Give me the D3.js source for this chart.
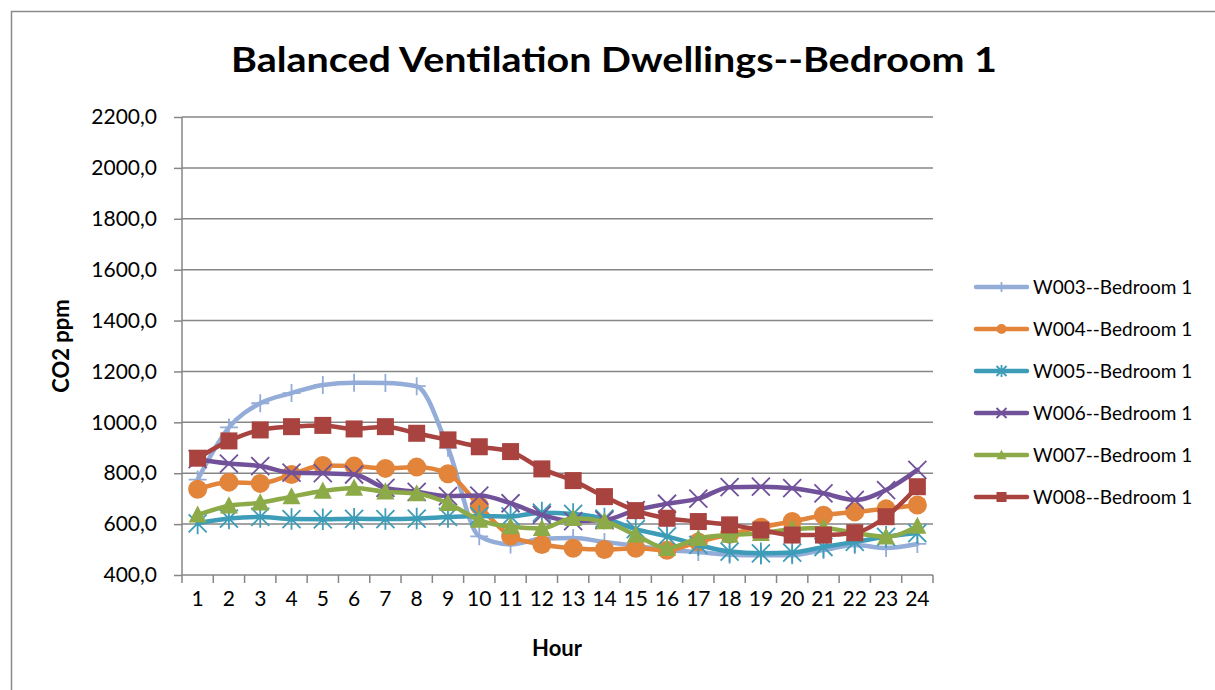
<!DOCTYPE html>
<html>
<head>
<meta charset="utf-8">
<script src="https://cdn.jsdelivr.net/npm/d3@7"></script>
<style>
  html, body { margin: 0; padding: 0; background: #fff; }
  svg text { font-family: Lato, "Open Sans", sans-serif; fill: #000; }
</style>
</head>
<body>
<svg id="chart" width="1215" height="690"></svg>
<script>
const hours = [1,2,3,4,5,6,7,8,9,10,11,12,13,14,15,16,17,18,19,20,21,22,23,24];
const seriesNames = ["W003--Bedroom 1","W004--Bedroom 1","W005--Bedroom 1","W006--Bedroom 1","W007--Bedroom 1","W008--Bedroom 1"];
const w003 = [775, 980, 1075, 1115, 1147, 1156, 1155, 1142, 900, 552, 520, 542, 545, 530, 515, 498, 490, 480, 478, 478, 498, 518, 506, 522];
const w004 = [737, 765, 760, 795, 830, 828, 819, 824, 798, 672, 553, 520, 505, 500, 505, 497, 530, 560, 588, 610, 635, 648, 660, 675];
const w005 = [603, 622, 628, 620, 619, 621, 620, 622, 628, 632, 630, 645, 640, 622, 580, 552, 518, 492, 485, 488, 510, 530, 550, 565];
const w006 = [855, 838, 828, 802, 800, 795, 742, 727, 710, 712, 682, 636, 612, 616, 655, 680, 700, 745, 747, 741, 721, 695, 734, 813];
const w007 = [636, 672, 684, 708, 730, 742, 727, 720, 682, 616, 590, 583, 623, 610, 557, 505, 544, 557, 564, 580, 585, 565, 550, 592];
const w008 = [859, 927, 970, 983, 988, 974, 983, 957, 931, 904, 885, 817, 771, 708, 653, 623, 610, 597, 577, 557, 557, 566, 629, 747];
const yTicks = [400, 600, 800, 1000, 1200, 1400, 1600, 1800, 2000, 2200];
const colors = ["#93ACD8", "#E2843A", "#3D9CB7", "#71519A", "#8CAA48", "#A8433F"];
const markers = ["plus", "circle", "star", "cross", "triangle", "square"];
const allValues = [w003, w004, w005, w006, w007, w008];

const svg = d3.select("#chart");
const plot = { left: 182, right: 933, top: 117, bottom: 575 };

// outer border
svg.append("rect").attr("x", 11.5).attr("y", 11.5).attr("width", 1215).attr("height", 700)
  .attr("fill", "none").attr("stroke", "#8a8a8a").attr("stroke-width", 1.5);

// title
svg.append("text").attr("x", 614).attr("y", 72).attr("text-anchor", "middle")
  .attr("font-size", 34).attr("font-weight", "bold")
  .attr("textLength", 766).attr("lengthAdjust", "spacingAndGlyphs")
  .text("Balanced Ventilation Dwellings--Bedroom 1");

const x = d3.scaleBand().domain(hours).range([plot.left, plot.right]);
const y = d3.scaleLinear().domain([400, 2200]).range([plot.bottom, plot.top]);

// grid lines
svg.append("g").selectAll("line").data(yTicks.slice(1)).join("line")
  .attr("x1", plot.left).attr("x2", plot.right)
  .attr("y1", d => y(d)).attr("y2", d => y(d))
  .attr("stroke", "#868686").attr("stroke-width", 1.5);

// y axis
const yAxis = svg.append("g").attr("transform", `translate(${plot.left},0)`)
  .call(d3.axisLeft(y).tickValues(yTicks).tickSize(8).tickPadding(17)
    .tickFormat(d => d3.format(".1f")(d).replace(".", ",")));
yAxis.selectAll("line").attr("stroke", "#868686").attr("stroke-width", 1.5);
yAxis.select(".domain").attr("stroke", "#868686").attr("stroke-width", 1.5).attr("d", `M0,${plot.top}V${plot.bottom}`);
yAxis.selectAll("text").attr("font-size", 21).attr("font-family", "Lato, sans-serif").attr("fill", "#000");

// x axis
const xAxis = svg.append("g").attr("transform", `translate(0,${plot.bottom})`)
  .call(d3.axisBottom(x).tickSize(0).tickPadding(16));
xAxis.select(".domain").attr("stroke", "#868686").attr("stroke-width", 1.5).attr("d", `M${plot.left},0H${plot.right}`);
xAxis.selectAll("text").attr("font-size", 21).attr("font-family", "Lato, sans-serif").attr("fill", "#000");
// category boundary ticks
const bounds = hours.map(h => x(h)).concat([plot.right]);
svg.append("g").selectAll("line").data(bounds).join("line")
  .attr("x1", d => d).attr("x2", d => d)
  .attr("y1", plot.bottom).attr("y2", plot.bottom + 8)
  .attr("stroke", "#868686").attr("stroke-width", 1.5);

// axis titles
svg.append("text").attr("transform", `translate(69,346) rotate(-90)`).attr("text-anchor", "middle")
  .attr("font-size", 22).attr("font-weight", "bold").text("CO2 ppm");
svg.append("text").attr("x", 557).attr("y", 656).attr("text-anchor", "middle")
  .attr("font-size", 22).attr("font-weight", "bold").text("Hour");

function drawMarker(g, type, cx, cy, color, s) {
  const h = s / 2;
  if (type === "circle") {
    g.append("circle").attr("cx", cx).attr("cy", cy).attr("r", h).attr("fill", color);
  } else if (type === "square") {
    g.append("rect").attr("x", cx - h).attr("y", cy - h).attr("width", s).attr("height", s).attr("fill", color);
  } else if (type === "triangle") {
    g.append("path").attr("d", `M${cx},${cy - h * 1.05}L${cx + h},${cy + h * 0.85}L${cx - h},${cy + h * 0.85}Z`).attr("fill", color);
  } else if (type === "plus") {
    g.append("path").attr("d", `M${cx - h},${cy}H${cx + h}M${cx},${cy - h}V${cy + h}`)
      .attr("stroke", color).attr("stroke-width", 1.8).attr("fill", "none");
  } else if (type === "cross") {
    g.append("path").attr("d", `M${cx - h},${cy - h}L${cx + h},${cy + h}M${cx - h},${cy + h}L${cx + h},${cy - h}`)
      .attr("stroke", color).attr("stroke-width", 1.8).attr("fill", "none");
  } else if (type === "star") {
    g.append("path").attr("d", `M${cx - h},${cy - h}L${cx + h},${cy + h}M${cx - h},${cy + h}L${cx + h},${cy - h}M${cx},${cy - h * 1.2}V${cy + h * 1.2}`)
      .attr("stroke", color).attr("stroke-width", 1.8).attr("fill", "none");
  }
}

const line = d3.line()
  .x((d, i) => x(hours[i]) + x.bandwidth() / 2)
  .y(d => y(d))
  .curve(d3.curveMonotoneX);

allValues.forEach((vals, si) => {
  const g = svg.append("g");
  g.append("path").datum(vals).attr("d", line)
    .attr("fill", "none").attr("stroke", colors[si]).attr("stroke-width", 4.5)
    .attr("stroke-linecap", "round").attr("stroke-linejoin", "round");
  vals.forEach((v, i) => {
    drawMarker(g, markers[si], x(hours[i]) + x.bandwidth() / 2, y(v), colors[si],
      markers[si] === "square" ? 17 : markers[si] === "circle" ? 19 : 18);
  });
});

// legend
const legend = svg.append("g");
seriesNames.forEach((name, i) => {
  const ly = 287 + i * 42;
  legend.append("line").attr("x1", 976).attr("x2", 1027).attr("y1", ly).attr("y2", ly)
    .attr("stroke", colors[i]).attr("stroke-width", 4.5).attr("stroke-linecap", "round");
  drawMarker(legend, markers[i], 1001.5, ly, colors[i], 10);
  legend.append("text").attr("x", 1033).attr("y", ly + 6.5).attr("font-size", 19).text(name);
});
</script>
</body>
</html>
